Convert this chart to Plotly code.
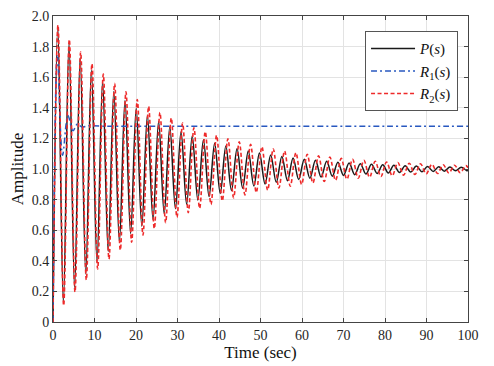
import plotly.graph_objects as go

# ---- data (extrema of each step response) ----
p_time = [0, 1.15, 2.50, 3.85, 5.20, 6.55, 7.90, 9.25, 10.60, 11.95, 13.30, 14.65, 16.00,
          17.35, 18.70, 20.05, 21.40, 22.75, 24.10, 25.45, 26.80, 28.15, 29.50, 30.85,
          32.20, 33.55, 34.90, 36.25, 37.60, 38.95, 40.30, 41.65, 43.00, 44.35, 45.70,
          47.05, 48.40, 49.75, 51.10, 52.45, 53.80, 55.15, 56.50, 57.85, 59.20, 60.55,
          61.90, 63.25, 64.60, 65.95, 67.30, 68.65, 70.00, 71.35, 72.70, 74.05, 75.40,
          76.75, 78.10, 79.45, 80.80, 82.15, 83.50, 84.85, 86.20, 87.55, 88.90, 90.25,
          91.60, 92.95, 94.30, 95.65, 97.00, 98.35, 99.70, 100]
p_amp = [0, 1.930, 0.125, 1.824, 0.225, 1.729, 0.314, 1.646, 0.392, 1.572, 0.462, 1.506,
         0.524, 1.448, 0.578, 1.397, 0.626, 1.352, 0.669, 1.311, 0.707, 1.276, 0.741,
         1.244, 0.770, 1.216, 0.797, 1.191, 0.820, 1.169, 0.840, 1.150, 0.859, 1.133,
         0.875, 1.118, 0.889, 1.104, 0.902, 1.092, 0.913, 1.082, 0.923, 1.072, 0.932,
         1.064, 0.940, 1.057, 0.947, 1.050, 0.953, 1.044, 0.958, 1.039, 0.963, 1.035,
         0.967, 1.031, 0.971, 1.027, 0.974, 1.024, 0.977, 1.021, 0.980, 1.019, 0.982,
         1.017, 0.984, 1.015, 0.986, 1.013, 0.988, 1.012, 0.989, 0.990]

r1_time = [0, 1.05, 2.30, 3.60, 4.80, 5.90, 7.00, 8.50, 12, 20, 40, 60, 80, 100]
r1_amp = [0, 1.74, 1.09, 1.35, 1.25, 1.295, 1.275, 1.282, 1.28, 1.28, 1.28, 1.28, 1.28, 1.28]

r2_time = [0, 1.20, 2.57, 3.93, 5.30, 6.66, 8.03, 9.39, 10.76, 12.12, 13.49, 14.85, 16.22,
           17.58, 18.95, 20.31, 21.68, 23.04, 24.41, 25.77, 27.14, 28.50, 29.87, 31.23,
           32.60, 33.96, 35.33, 36.69, 38.06, 39.42, 40.79, 42.15, 43.52, 44.88, 46.25,
           47.61, 48.98, 50.34, 51.71, 53.07, 54.44, 55.80, 57.17, 58.53, 59.90, 61.26,
           62.63, 63.99, 65.36, 66.72, 68.09, 69.45, 70.82, 72.18, 73.55, 74.91, 76.28,
           77.64, 79.01, 80.37, 81.74, 83.10, 84.47, 85.83, 87.20, 88.56, 89.93, 91.29,
           92.66, 94.02, 95.39, 96.75, 98.12, 99.48, 100]
r2_amp = [0, 1.940, 0.108, 1.847, 0.196, 1.764, 0.275, 1.688, 0.347, 1.620, 0.411, 1.559,
          0.469, 1.504, 0.521, 1.454, 0.569, 1.409, 0.611, 1.369, 0.650, 1.333, 0.684,
          1.300, 0.715, 1.270, 0.743, 1.244, 0.769, 1.220, 0.792, 1.198, 0.812, 1.178,
          0.831, 1.161, 0.847, 1.145, 0.862, 1.131, 0.876, 1.118, 0.888, 1.106, 0.899,
          1.096, 0.909, 1.086, 0.918, 1.078, 0.926, 1.070, 0.933, 1.063, 0.940, 1.057,
          0.946, 1.051, 0.951, 1.046, 0.956, 1.042, 0.960, 1.038, 0.964, 1.034, 0.968,
          1.031, 0.971, 1.028, 0.974, 1.025, 0.976, 1.022, 1.008]

x_ticks = [0, 10, 20, 30, 40, 50, 60, 70, 80, 90, 100]
y_ticks = [0, 0.2, 0.4, 0.6, 0.8, 1.0, 1.2, 1.4, 1.6, 1.8, 2.0]
y_tick_text = ["0", "0.2", "0.4", "0.6", "0.8", "1.0", "1.2", "1.4", "1.6", "1.8", "2.0"]

names = ["<i>P</i>(<i>s</i>)", "<i>R</i><sub>1</sub>(<i>s</i>)", "<i>R</i><sub>2</sub>(<i>s</i>)"]

SERIF = "Liberation Serif, Times New Roman, serif"

fig = go.Figure()
fig.add_trace(go.Scatter(x=p_time, y=p_amp, mode="lines", name=names[0],
                         line=dict(color="#1a1a1a", width=1.5, shape="spline", smoothing=1)))
fig.add_trace(go.Scatter(x=r1_time, y=r1_amp, mode="lines", name=names[1],
                         line=dict(color="#2858c0", width=1.5, dash="6px,3px,2px,3px",
                                   shape="spline", smoothing=1)))
fig.add_trace(go.Scatter(x=r2_time, y=r2_amp, mode="lines", name=names[2],
                         line=dict(color="#ee2a2a", width=1.6, dash="4px,2.5px",
                                   shape="spline", smoothing=1)))

axis_common = dict(
    showgrid=True, gridcolor="#e3e3e3", gridwidth=1,
    showline=True, linecolor="#444444", linewidth=1, mirror="allticks",
    ticks="inside", ticklen=4, tickcolor="#444444",
    tickfont=dict(family=SERIF, size=14, color="#262626"),
    zeroline=False, automargin=False,
)

fig.update_xaxes(range=[0, 100], tickvals=x_ticks,
                 title=dict(text="Time (sec)", font=dict(family=SERIF, size=17, color="#111"),
                            standoff=2),
                 **axis_common)
fig.update_yaxes(range=[0, 2.0], tickvals=y_ticks, ticktext=y_tick_text,
                 title=dict(text="Amplitude", font=dict(family=SERIF, size=17, color="#111"),
                            standoff=4),
                 **axis_common)

# page body adds an 8px offset; figure sized so the plot area lands where the reference has it
fig.update_layout(
    width=486, height=358,
    margin=dict(l=45, r=26, t=8, b=44, autoexpand=False),
    plot_bgcolor="white", paper_bgcolor="white",
    showlegend=True,
    legend=dict(x=0.976, y=0.95, xanchor="right", yanchor="top",
                bgcolor="white", bordercolor="#555555", borderwidth=1,
                font=dict(family=SERIF, size=15, color="#111"),
                tracegroupgap=0, itemwidth=44),
)

fig.write_html("out.html")
